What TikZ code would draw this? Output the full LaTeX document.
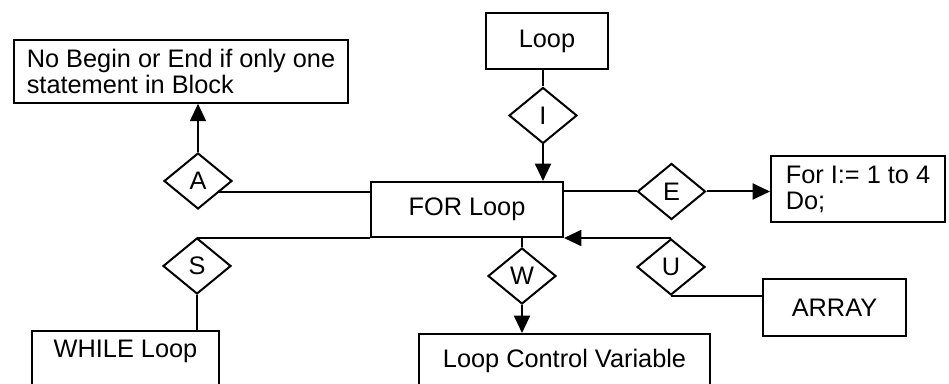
\documentclass[tikz,border=0pt]{standalone}
\usepackage{fontspec}
\setmainfont{Liberation Sans}
\usetikzlibrary{shapes.geometric,arrows.meta}
\begin{document}
\begin{tikzpicture}[x=0.75pt,y=0.75pt,line width=1.5pt,
        font=\fontsize{19pt}{19.5pt}\selectfont,
        box/.style={draw,rectangle,inner sep=0pt},
        choice/.style={draw,diamond,inner sep=0pt,minimum width=51pt,minimum height=42pt},
        arr/.style={-{Triangle[length=13pt,width=12pt]}}]
        \useasboundingbox (0,0) rectangle (949,384);
        \clip (0,0) rectangle (949,384);

        \node[box,minimum width=251pt,minimum height=47pt,align=left] (N) at (181,312.5) {No Begin or End if only one\\statement in Block};
        \node[box,minimum width=91.5pt,minimum height=42pt] (L) at (547,343) {Loop};
        \node[box,minimum width=144pt,minimum height=41.25pt] (F) at (467,174.5) {FOR Loop};
        \node[box,minimum width=130.5pt,minimum height=49.5pt,align=left] (D) at (858,195) {For I:= 1 to 4\\Do;};
        \node[box,minimum width=107.25pt,minimum height=42.75pt] (R) at (834.5,76.5) {ARRAY};
        \node[box,anchor=north,minimum width=140.25pt,text height=20pt,text depth=32pt] (H) at (125.5,54) {WHILE Loop};
        \node[box,anchor=north,minimum width=218pt,text height=25.5pt,text depth=30pt] (V) at (564.5,51) {Loop Control Variable};

        \node[choice] (A) at (198,203) {A};
        \node[choice] (I) at (543,268.5) {I};
        \node[choice] (E) at (671.5,192.5) {E};
        \node[choice] (S) at (197,118) {S};
        \node[choice] (W) at (522,108) {W};
        \node[choice] (U) at (671,117) {U};

        \draw[arr] (A.north) -- (A.north |- N.south);
        \draw (A.-28) -- (A.-28 -| F.west);
        \draw (F.south west) -- (F.south west -| S.north);
        \draw (S.south) -- (S.south |- H.north);
        \draw (I.north) -- (I.north |- L.south);
        \draw[arr] (I.south) -- (I.south |- F.north);
        \draw (E.west) -- (E.west -| F.east);
        \draw[arr] (E.east) -- (E.east -| D.west);
        \draw (W.north) -- (W.north |- F.south);
        \draw[arr] (W.south) -- (W.south |- V.north);
        \draw[arr] (U.north) -- (U.north -| F.east);
        \draw (U.south) -- (U.south -| R.west);
      \end{tikzpicture}
\end{document}
